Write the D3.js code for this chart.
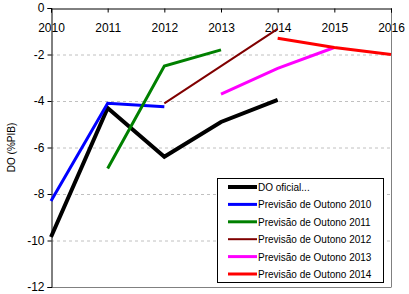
<!doctype html>
<html>
<head>
<style>
  body { margin: 0; background: #fff; font-family: 'Liberation Sans', Arial, sans-serif; }
  text { fill: #000; }
  .tick text { font-size: 12px; }
  .grid line { stroke: #c0c0c0; stroke-dasharray: 3 3; }
  .legend text { font-size: 10px; }
</style>
<script src="https://d3js.org/d3.v7.min.js"></script>
</head>
<body>
<svg width="409" height="294"></svg>
<script>
const years = [2010, 2011, 2012, 2013, 2014, 2015, 2016];
const yTicks = [0, -2, -4, -6, -8, -10, -12];

const seriesNames = ['DO oficial...', 'Previsão de Outono 2010', 'Previsão de Outono 2011',
  'Previsão de Outono 2012', 'Previsão de Outono 2013', 'Previsão de Outono 2014'];

const oficial   = [[2010, -9.85], [2011, -4.3], [2012, -6.4], [2013, -4.9], [2014, -3.95]];
const outono2010 = [[2010, -8.3], [2011, -4.1], [2012, -4.25]];
const outono2011 = [[2011, -6.9], [2012, -2.5], [2013, -1.8]];
const outono2012 = [[2012, -4.1], [2013, -2.5], [2014, -0.9]];
const outono2013 = [[2013, -3.7], [2014, -2.6], [2015, -1.7]];
const outono2014 = [[2014, -1.3], [2015, -1.7], [2016, -2.0]];

const colors = ['#000000', '#0000ff', '#008000', '#800000', '#ff00ff', '#ff0000'];
const widths = [4, 3, 3, 2, 3, 3];
const allSeries = [oficial, outono2010, outono2011, outono2012, outono2013, outono2014];

const svg = d3.select('svg');
const pLeft = 51, pRight = 391, pTop = 8, pBottom = 287;

const x = d3.scaleLinear().domain([2010, 2016]).range([pLeft, pRight]);
const y = d3.scaleLinear().domain([0, -12]).range([pTop, pBottom]);

// grid
svg.append('g').attr('class', 'grid')
  .selectAll('line')
  .data(yTicks.filter(d => d !== 0 && d !== -12))
  .enter().append('line')
  .attr('x1', pLeft).attr('x2', pRight)
  .attr('y1', d => y(d) + 0.5).attr('y2', d => y(d) + 0.5);

// frame: bottom + right gray
svg.append('line').attr('x1', pLeft).attr('x2', pRight + 0.5).attr('y1', pBottom + 0.5).attr('y2', pBottom + 0.5)
  .attr('stroke', '#808080');
svg.append('line').attr('x1', pRight + 0.5).attr('x2', pRight + 0.5).attr('y1', pTop).attr('y2', pBottom)
  .attr('stroke', '#808080');

// y axis
const yAxis = svg.append('g')
  .attr('transform', `translate(${pLeft + 0.5},0)`)
  .call(d3.axisLeft(y).tickValues(yTicks).tickSize(4).tickFormat(d3.format('d')));
yAxis.selectAll('path, line').attr('stroke', '#000');
yAxis.selectAll('text').attr('x', -7).text(d => d === 0 ? '0' : '-' + Math.abs(d));

// x axis at y=0 (top), labels below
const xAxis = svg.append('g')
  .attr('transform', `translate(0,${pTop + 0.5})`)
  .call(d3.axisBottom(x).tickValues(years).tickSize(4).tickFormat(d3.format('d')));
xAxis.select('.domain').attr('stroke', '#000');
xAxis.selectAll('line').attr('stroke', '#000');
xAxis.selectAll('text').attr('dy', '0').attr('y', 23);

// lines
const line = d3.line().x(d => x(d[0])).y(d => y(d[1]));
allSeries.forEach((s, i) => {
  svg.append('path')
    .datum(s)
    .attr('d', line)
    .attr('fill', 'none')
    .attr('stroke', colors[i])
    .attr('stroke-width', widths[i]);
});

// y label
svg.append('text')
  .attr('transform', `translate(15,${(pTop + pBottom) / 2}) rotate(-90)`)
  .attr('text-anchor', 'middle')
  .style('font-size', '10px')
  .text('DO (%PIB)');

// legend
const lg = svg.append('g').attr('class', 'legend');
lg.append('rect')
  .attr('x', 217.5).attr('y', 178.5).attr('width', 166).attr('height', 104)
  .attr('fill', '#fff').attr('stroke', '#000');
seriesNames.forEach((name, i) => {
  const yy = 187 + i * 17.4;
  lg.append('line')
    .attr('x1', 228).attr('x2', 257).attr('y1', yy).attr('y2', yy)
    .attr('stroke', colors[i]).attr('stroke-width', widths[i]);
  lg.append('text')
    .attr('x', 258).attr('y', yy + 4)
    .text(name);
});
</script>
</body>
</html>
